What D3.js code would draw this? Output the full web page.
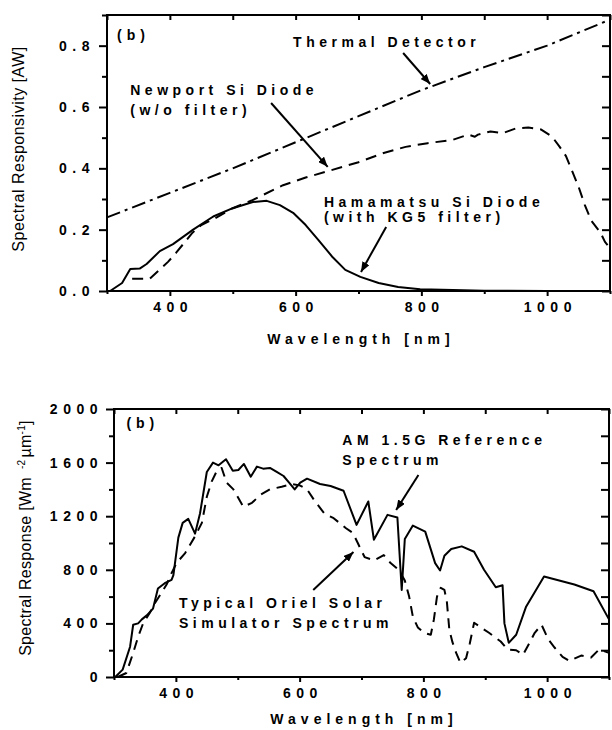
<!DOCTYPE html>
<html><head><meta charset="utf-8">
<script src="https://cdn.jsdelivr.net/npm/d3@7"></script>
<style>
body{margin:0;background:#fff}
svg{display:block}
text{font-family:Arial,"Liberation Sans",sans-serif}
</style>
</head><body>
<svg id="c" width="612" height="730"></svg>
<script>
// ---------- DATA ----------
const xMajorTicks = [400, 600, 800, 1000];
const xMinorTicks = [300, 500, 700, 900, 1100];

// Panel 1: spectral responsivity [A/W]
const respMajorTicks = [0, 0.2, 0.4, 0.6, 0.8];
const respMinorTicks = [0.1, 0.3, 0.5, 0.7, 0.9];

const thermalWl   = [300, 400, 500, 600, 700, 800, 900, 1000, 1100];
const thermalResp = [0.24, 0.32, 0.40, 0.485, 0.57, 0.655, 0.73, 0.80, 0.885];

const newportWl   = [340, 368, 384, 397, 410, 420, 436, 450, 470, 500, 530, 580, 616, 650, 700, 740, 775, 810, 850, 875, 885, 890, 910, 930, 950, 970, 990, 1008, 1020, 1030, 1040, 1050, 1060, 1070, 1085, 1092, 1100];
const newportResp = [0.04, 0.04, 0.07, 0.095, 0.125, 0.15, 0.19, 0.215, 0.235, 0.27, 0.295, 0.345, 0.37, 0.39, 0.42, 0.45, 0.47, 0.482, 0.493, 0.51, 0.503, 0.51, 0.52, 0.515, 0.53, 0.533, 0.527, 0.503, 0.47, 0.44, 0.39, 0.34, 0.28, 0.23, 0.19, 0.16, 0.14];

const hamaWl   = [305, 324, 337, 352, 363, 384, 405, 437, 469, 500, 532, 554, 575, 596, 616, 636, 659, 679, 703, 732, 763, 798, 850, 900, 1000, 1100];
const hamaResp = [0, 0.026, 0.072, 0.073, 0.088, 0.13, 0.153, 0.2, 0.243, 0.27, 0.29, 0.294, 0.28, 0.255, 0.215, 0.167, 0.11, 0.069, 0.046, 0.026, 0.013, 0.006, 0.003, 0.001, 0, 0];

// Panel 2: spectral irradiance [W m^-2 um^-1]
const irrMajorTicks = [0, 400, 800, 1200, 1600, 2000];
const irrMinorTicks = [200, 600, 1000, 1400, 1800];

const am15Wl  = [302, 314, 326, 331, 339, 345, 353, 363, 371, 382, 393, 396, 404, 411, 420, 431, 439, 450, 460, 469, 481, 492, 501, 510, 521, 531, 541, 552, 563, 574, 583, 592, 601, 612, 633, 650, 671, 692, 711, 720, 742, 758, 765, 770, 783, 803, 819, 827, 834, 845, 862, 882, 898, 917, 928, 931, 938, 950, 966, 995, 1044, 1075, 1100];
const am15Val = [0, 55, 226, 390, 400, 430, 460, 510, 660, 700, 725, 760, 1040, 1150, 1180, 1070, 1220, 1530, 1600, 1580, 1625, 1540, 1545, 1590, 1495, 1570, 1555, 1560, 1530, 1500, 1450, 1400, 1450, 1480, 1440, 1425, 1390, 1135, 1310, 1025, 1210, 1190, 650, 1030, 1130, 1085, 850, 795, 905, 955, 975, 935, 800, 670, 685, 400, 255, 315, 525, 750, 690, 640, 430];

const orielWl  = [306, 320, 331, 339, 347, 358, 366, 377, 385, 393, 401, 415, 431, 442, 450, 458, 467, 474, 482, 493, 509, 523, 537, 552, 571, 588, 600, 612, 625, 640, 655, 675, 686, 694, 699, 705, 720, 736, 747, 760, 770, 777, 783, 791, 801, 812, 817, 822, 828, 834, 838, 842, 847, 853, 860, 869, 875, 882, 893, 906, 925, 936, 950, 961, 971, 980, 991, 1002, 1012, 1025, 1036, 1055, 1071, 1084, 1100];
const orielVal = [0, 30, 180, 300, 400, 480, 550, 630, 690, 775, 850, 925, 1050, 1150, 1345, 1460, 1545, 1560, 1450, 1400, 1270, 1300, 1360, 1400, 1420, 1440, 1430, 1400, 1310, 1220, 1185, 1110, 1075, 1000, 950, 895, 870, 910, 850, 800, 720, 600, 450, 370, 330, 315, 430, 600, 665, 650, 560, 350, 260, 180, 105, 140, 250, 405, 370, 330, 265, 205, 200, 165, 250, 330, 390, 280, 220, 150, 120, 160, 145, 205, 180];

// ---------- DRAWING ----------
const svg = d3.select("#c");
const FONT = 'Arial,"Liberation Sans",sans-serif';

const defs = svg.append("defs");
defs.append("marker").attr("id", "arr")
  .attr("markerUnits", "userSpaceOnUse")
  .attr("viewBox", "0 0 10 8").attr("refX", 10).attr("refY", 4)
  .attr("markerWidth", 10).attr("markerHeight", 8).attr("orient", "auto")
  .append("path").attr("d", "M0,0 L10,4 L0,8 Z").attr("fill", "#000");

function panel(cfg) {
  const g = svg.append("g");
  const x = d3.scaleLinear().domain([300, 1100]).range([cfg.left, cfg.right]);
  const y = d3.scaleLinear().domain([0, cfg.ymax]).range([cfg.bottom, cfg.top]);

  const styleTicks = (sel, ls, dx) => {
    sel.select(".domain").remove();
    sel.selectAll("line").attr("stroke", "#000").attr("stroke-width", 2);
    sel.selectAll("text").attr("fill", "#000").attr("font-family", FONT)
      .attr("font-size", 14).attr("font-weight", "bold")
      .style("letter-spacing", ls + "px").attr("dx", dx);
  };

  // bottom
  g.append("g").attr("transform", `translate(0,${cfg.bottom})`)
    .call(d3.axisBottom(x).tickValues(xMajorTicks).tickSize(5).tickPadding(cfg.xPad).tickFormat(d3.format("d")))
    .call(s => styleTicks(s, 5.5, 2.75));
  g.append("g").attr("transform", `translate(0,${cfg.bottom})`)
    .call(d3.axisBottom(x).tickValues(xMinorTicks).tickSize(3).tickFormat(""))
    .call(s => styleTicks(s, 0, 0));
  // top (inward)
  g.append("g").attr("transform", `translate(0,${cfg.top})`)
    .call(d3.axisTop(x).tickValues(xMajorTicks.concat(xMinorTicks)).tickSize(-5).tickFormat(""))
    .call(s => styleTicks(s, 0, 0));
  // left
  g.append("g").attr("transform", `translate(${cfg.left},0)`)
    .call(d3.axisLeft(y).tickValues(cfg.yMajor).tickSize(8).tickPadding(cfg.yPad).tickFormat(cfg.yFmt))
    .call(s => styleTicks(s, 5.5, 0));
  g.append("g").attr("transform", `translate(${cfg.left},0)`)
    .call(d3.axisLeft(y).tickValues(cfg.yMinor).tickSize(5).tickFormat(""))
    .call(s => styleTicks(s, 0, 0));
  // right (inward)
  g.append("g").attr("transform", `translate(${cfg.right},0)`)
    .call(d3.axisRight(y).tickValues(cfg.yMajor.concat(cfg.yMinor)).tickSize(-8).tickFormat(""))
    .call(s => styleTicks(s, 0, 0));

  // frame
  g.append("rect").attr("x", cfg.left).attr("y", cfg.top)
    .attr("width", cfg.right - cfg.left).attr("height", cfg.bottom - cfg.top)
    .attr("fill", "none").attr("stroke", "#000").attr("stroke-width", 2);

  // x title
  g.append("text").attr("x", (cfg.left + cfg.right) / 2 + 2.5).attr("y", cfg.xTitleY)
    .attr("text-anchor", "middle").attr("font-size", 14).attr("font-weight", "bold")
    .style("letter-spacing", "5px").text("Wavelength [nm]");

  const line = d3.line().x(d => x(d[0])).y(d => y(d[1]));
  cfg.series.forEach(s => {
    g.append("path").datum(d3.zip(s.wl, s.v)).attr("d", line)
      .attr("fill", "none").attr("stroke", "#000").attr("stroke-width", 2)
      .attr("stroke-linejoin", "round")
      .attr("stroke-dasharray", s.dash || null);
  });

  cfg.labels.forEach(l => {
    g.append("text").attr("x", x(l.wl)).attr("y", y(l.v))
      .attr("font-size", 14).attr("font-weight", "bold")
      .style("letter-spacing", (l.ls || 4.5) + "px").text(l.t);
  });
  cfg.arrows.forEach(a => {
    g.append("line").attr("x1", x(a[0])).attr("y1", y(a[1])).attr("x2", x(a[2])).attr("y2", y(a[3]))
      .attr("stroke", "#000").attr("stroke-width", 2).attr("marker-end", "url(#arr)");
  });
  return g;
}

panel({
  left: 107, right: 610, top: 15, bottom: 291, ymax: 0.9,
  yMajor: respMajorTicks, yMinor: respMinorTicks, yFmt: d3.format(".1f"),
  yPad: 4, xPad: 6, xTitleY: 344,
  series: [
    { wl: thermalWl, v: thermalResp, dash: "14,5,3,5" },
    { wl: newportWl, v: newportResp, dash: "11,7" },
    { wl: hamaWl, v: hamaResp }
  ],
  labels: [
    { t: "(b)", wl: 316, v: 0.818, ls: 5 },
    { t: "Thermal Detector", wl: 596, v: 0.796 },
    { t: "Newport Si Diode", wl: 337, v: 0.639 },
    { t: "(w/o filter)", wl: 337, v: 0.574 },
    { t: "Hamamatsu Si Diode", wl: 645, v: 0.274 },
    { t: "(with KG5 filter)", wl: 645, v: 0.225 }
  ],
  arrows: [
    [771, 0.776, 814, 0.675],
    [561, 0.613, 651, 0.405],
    [744, 0.209, 704, 0.062]
  ]
});

panel({
  left: 114, right: 609, top: 409, bottom: 677, ymax: 2000,
  yMajor: irrMajorTicks, yMinor: irrMinorTicks, yFmt: d3.format("d"),
  yPad: 3, xPad: 6, xTitleY: 724,
  series: [
    { wl: am15Wl, v: am15Val },
    { wl: orielWl, v: orielVal, dash: "10,7" }
  ],
  labels: [
    { t: "(b)", wl: 320, v: 1858, ls: 5 },
    { t: "AM 1.5G Reference", wl: 669, v: 1731 },
    { t: "Spectrum", wl: 669, v: 1582 },
    { t: "Typical Oriel Solar", wl: 405, v: 515 },
    { t: "Simulator Spectrum", wl: 405, v: 366 }
  ],
  arrows: [
    [792, 1507, 756, 1246],
    [622, 649, 687, 933]
  ]
});

// y titles
svg.append("text").attr("transform", "translate(24,149) rotate(-90)")
  .attr("text-anchor", "middle").attr("font-size", 16).style("letter-spacing", "0.5px")
  .text("Spectral Responsivity [AW]");

const t2 = svg.append("text").attr("transform", "translate(31,538) rotate(-90)")
  .attr("text-anchor", "middle").attr("font-size", 16).style("letter-spacing", "0.3px");
t2.append("tspan").text("Spectral Response [Wm");
t2.append("tspan").attr("dx", 8).attr("dy", -6).attr("font-size", 10).text("-2");
t2.append("tspan").attr("dx", 2).attr("dy", 6).text("µm");
t2.append("tspan").attr("dy", -6).attr("font-size", 10).text("-1");
t2.append("tspan").attr("dy", 6).text("]");
</script>
</body></html>
